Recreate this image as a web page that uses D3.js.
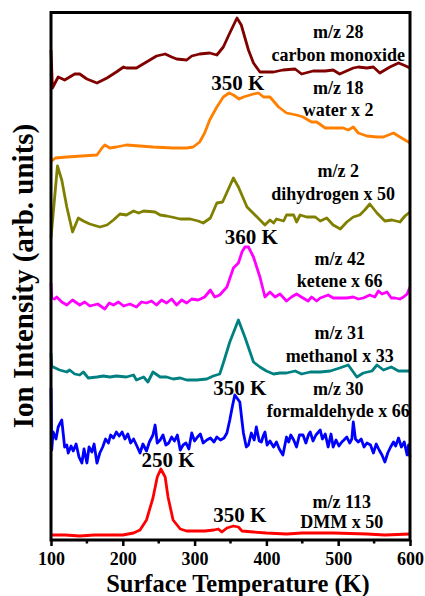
<!DOCTYPE html>
<html lang="en">
  <head>
    <meta charset="UTF-8">
    <title>TPD traces</title>
    <script src="https://d3js.org/d3.v7.min.js"></script>
    <style>
      body { margin: 0; background: #fff; }
      text { font-family: "Liberation Serif", "Times New Roman", serif; font-weight: bold; }
    </style>
  </head>
  <body>

<script>
  // [temperature (K), intensity (arb. units, stacked offset included)]
  const carbonMonoxide = [
    [100,489],[102,451],[110,462],[119,459],[133,465],[140,465],[150,460],[164,456],[178,461],[191,467],
    [201,472],[205,471],[219,471],[233,477],[247,483],[259,485],[268,482],[275,480],[289,479],[296,483],
    [307,485],[321,486],[331,484],[340,492],[349,506],[359,521],[365,514],[375,489],[382,476],[391,467],
    [410,467],[423,469],[440,470],[449,465],[465,468],[482,468],[493,469],[502,465],[521,471],[528,472],
    [540,471],[549,472],[558,466],[572,472],[584,476],[591,474],[600,471]
  ];
  const water = [
    [100,381],[101,378],[106,381],[122,382],[164,384],[168,388],[171,391],[175,394],[182,391],[191,392],
    [205,394],[224,393],[242,392],[270,391],[289,391],[298,392],[307,397],[314,406],[321,419],[331,432],
    [340,442],[348,446],[354,444],[362,440],[368,442],[382,445],[389,446],[396,442],[405,442],[417,432],
    [428,426],[442,424],[451,422],[463,417],[470,417],[482,411],[493,411],[507,411],[514,409],[521,412],
    [528,406],[540,403],[554,402],[563,402],[577,406],[586,402],[600,396]
  ];
  const dihydrogen = [
    [100,301],[109,373],[115,359],[122,332],[130,307],[138,321],[145,318],[154,315],[168,312],[178,314],
    [187,319],[196,325],[205,324],[215,328],[222,326],[229,328],[245,327],[252,324],[261,323],[268,322],
    [280,320],[294,320],[305,318],[312,316],[322,321],[331,336],[339,337],[354,361],[361,352],[373,332],
    [387,322],[398,314],[405,319],[410,316],[414,320],[424,318],[428,324],[438,324],[442,317],[447,324],
    [456,322],[468,322],[475,318],[484,321],[493,314],[503,310],[512,317],[521,322],[530,324],[537,329],
    [544,335],[554,326],[565,318],[575,319],[586,317],[593,323],[600,327]
  ];
  const ketene = [
    [100,256],[101,241],[105,240],[108,242],[115,237],[122,234],[130,239],[140,234],[147,237],[154,233],
    [165,235],[175,230],[181,236],[187,234],[194,237],[201,233],[210,235],[219,232],[226,237],[233,236],
    [240,238],[247,234],[254,239],[261,236],[268,240],[275,234],[282,239],[289,236],[296,240],[305,239],
    [314,242],[322,249],[328,242],[335,244],[345,252],[354,271],[361,276],[366,287],[370,292],[375,292],
    [382,282],[391,262],[398,242],[405,247],[412,242],[419,245],[428,238],[435,242],[442,245],[451,241],
    [458,238],[463,242],[470,238],[475,241],[486,244],[493,241],[500,241],[512,241],[521,242],[528,240],
    [535,241],[544,244],[551,242],[556,248],[561,245],[568,247],[574,241],[579,241],[586,240],[591,242],
    [596,245],[600,252]
  ];
  const methanol = [
    [100,186],[101,172],[103,172],[112,169],[122,167],[126,169],[133,165],[140,164],[145,167],[152,161],
    [164,162],[173,163],[182,162],[191,163],[205,162],[215,164],[219,159],[229,162],[235,157],[242,167],
    [252,162],[261,162],[270,160],[280,161],[289,159],[303,159],[317,160],[326,163],[335,165],[340,176],
    [349,197],[361,219],[370,202],[382,177],[391,172],[400,168],[410,165],[419,166],[428,166],[440,168],
    [449,165],[461,167],[475,167],[489,168],[502,171],[514,174],[526,162],[535,166],[547,168],[554,174],
    [563,169],[574,172],[584,168],[600,168]
  ];
  const formaldehyde = [
    [100,151],[101,89],[103,107],[107,100],[110,112],[115,119],[119,92],[122,94],[124,86],[128,93],
    [131,88],[135,95],[139,82],[143,76],[146,90],[150,76],[153,92],[157,87],[160,95],[164,76],
    [168,86],[172,92],[176,100],[180,96],[183,104],[187,101],[191,107],[195,103],[199,107],[203,100],
    [207,105],[211,96],[215,100],[219,94],[224,86],[228,95],[233,88],[237,97],[242,104],[245,114],
    [248,96],[252,99],[256,104],[260,94],[264,96],[268,102],[272,98],[276,104],[280,89],[284,94],
    [288,96],[292,90],[296,106],[300,98],[304,102],[308,105],[312,96],[317,99],[322,101],[327,97],
    [331,102],[336,99],[341,101],[345,106],[349,119],[353,134],[356,144],[360,140],[363,137],[366,118],
    [368,106],[372,92],[375,94],[379,106],[383,99],[386,112],[390,98],[393,97],[396,104],[398,107],
    [401,94],[405,98],[410,92],[414,97],[418,90],[423,84],[428,102],[431,97],[434,104],[438,99],
    [442,92],[446,104],[451,104],[455,96],[459,105],[461,107],[465,98],[469,104],[475,109],[478,100],
    [482,105],[486,92],[490,105],[493,92],[497,99],[501,93],[505,97],[508,99],[512,102],[516,96],
    [519,100],[521,117],[524,100],[528,97],[532,100],[536,92],[540,96],[545,94],[549,86],[553,95],
    [557,89],[561,84],[565,77],[569,86],[573,92],[577,97],[580,93],[584,101],[588,92],[592,97],
    [596,84],[598,94],[600,82]
  ];
  const dmm = [
    [100,4],[120,4],[140,3],[160,4],[180,4],[200,4],[215,6],[224,9],[233,19],[242,41],
    [248,62],[253,70],[259,62],[263,42],[270,19],[280,10],[289,8],[300,8],[314,8],[327,9],
    [333,10],[338,7],[345,11],[354,13],[361,12],[366,8],[382,7],[400,6],[428,5],[450,6],
    [493,6],[540,5],[565,4],[600,5]
  ];

  const seriesNames  = ["m/z 28", "m/z 18", "m/z 2", "m/z 42", "m/z 31", "m/z 30", "m/z 113"];
  const seriesColors = ["#800000", "#ff8000", "#808000", "#ff00ff", "#008080", "#0000ff", "#ff0000"];
  const seriesData   = [carbonMonoxide, water, dihydrogen, ketene, methanol, formaldehyde, dmm];

  // text labels: [temperature, level, text, font size]
  const labels = [
    [500, 501, "m/z 28", 18], [500, 478, "carbon monoxide", 18],
    [360, 449, "350 K", 21],
    [500, 445, "m/z 18", 18], [500, 423, "water x 2", 18],
    [500, 362, "m/z 2", 18], [493, 339, "dihydrogen x 50", 18],
    [379, 295, "360 K", 21],
    [502, 274, "m/z 42", 18], [502, 252, "ketene x 66", 18],
    [502, 200, "m/z 31", 18], [502, 177, "methanol x 33", 18],
    [363, 144, "350 K", 21],
    [500, 144, "m/z 30", 18], [500, 122, "formaldehyde x 66", 18],
    [263, 72, "250 K", 21],
    [363, 17, "350 K", 21],
    [505, 31, "m/z 113", 18], [505, 11, "DMM x 50", 18]
  ];

  const xTicks = [100, 200, 300, 400, 500, 600];
  const xMinor = [150, 250, 350, 450, 550];

  const w = 425;
  const h = 596;
  const padLeft = 51, padRight = 410, padTop = 12.5, padBottom = 540;

  const xScale = d3.scaleLinear().domain([100, 600]).range([padLeft, padRight]);
  const yScale = d3.scaleLinear().domain([0, 527]).range([539, 12]);

  const svg = d3.select("body").append("svg")
                .attr("width", w)
                .attr("height", h);

  const line = d3.line()
                 .x(d => xScale(d[0]))
                 .y(d => yScale(d[1]));

  svg.selectAll("path.trace")
     .data(seriesData)
     .enter()
     .append("path")
     .attr("class", "trace")
     .attr("d", line)
     .attr("fill", "none")
     .attr("stroke", (d, i) => seriesColors[i])
     .attr("stroke-width", 2.8)
     .attr("stroke-linejoin", "round");

  svg.selectAll("text.lbl")
     .data(labels)
     .enter()
     .append("text")
     .attr("class", "lbl")
     .attr("x", d => xScale(d[0]))
     .attr("y", d => yScale(d[1]))
     .attr("text-anchor", "middle")
     .attr("font-size", d => d[3])
     .text(d => d[2]);

  // frame
  svg.append("rect")
     .attr("x", padLeft)
     .attr("y", padTop)
     .attr("width", padRight - padLeft)
     .attr("height", padBottom - padTop)
     .attr("fill", "none")
     .attr("stroke", "#000")
     .attr("stroke-width", 3);

  const xAxis = d3.axisBottom(xScale)
                  .tickValues(xTicks)
                  .tickSize(6)
                  .tickSizeOuter(0)
                  .tickPadding(6);
  const gx = svg.append("g")
     .attr("transform", `translate(0, ${padBottom})`)
     .call(xAxis);
  gx.select(".domain").remove();
  gx.selectAll("line").attr("stroke-width", 2.5);
  gx.selectAll("text")
    .attr("font-size", 18)
    .attr("font-family", "Liberation Serif, serif")
    .attr("font-weight", "bold")
    .attr("fill", "#000");

  svg.append("g")
     .selectAll("line")
     .data(xMinor)
     .enter()
     .append("line")
     .attr("x1", d => xScale(d))
     .attr("x2", d => xScale(d))
     .attr("y1", padBottom)
     .attr("y2", padBottom + 3.5)
     .attr("stroke", "#000")
     .attr("stroke-width", 2.5);

  svg.append("text")
     .attr("x", 238)
     .attr("y", 592)
     .attr("text-anchor", "middle")
     .attr("font-size", 24.5)
     .text("Surface Temperature (K)");

  svg.append("text")
     .attr("transform", "translate(33, 276) rotate(-90)")
     .attr("text-anchor", "middle")
     .attr("font-size", 29)
     .text("Ion Intensity (arb. units)");
</script>

  </body>
</html>
